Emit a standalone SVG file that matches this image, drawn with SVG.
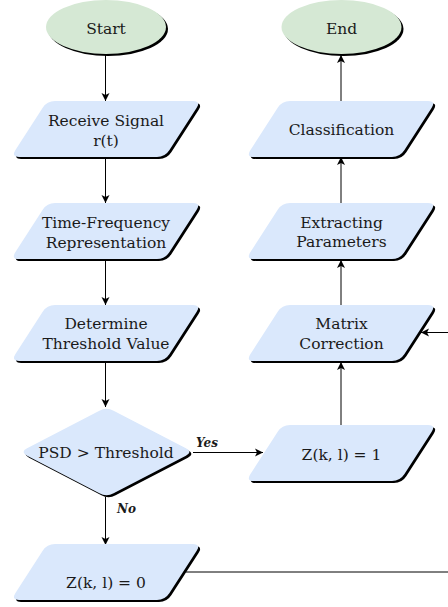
<svg xmlns="http://www.w3.org/2000/svg" xmlns:xlink="http://www.w3.org/1999/xlink" width="448" height="607" viewBox="0 0 448 607">
  <style>
    .lbl { font-family: 'DejaVu Serif', serif; font-size: 15.5px; fill: #1a1a1a; text-anchor: middle; }
    .tag { font-family: 'DejaVu Serif', serif; font-size: 12px; font-style: italic; font-weight: bold; fill: #1a1a1a; }
    .io { fill: #dae8fc; }
    .term { fill: #d5e8d4; }
    .shadow { fill: #000; }
    .edge { fill: none; stroke: #000; stroke-width: 1; }
  </style>
  <defs>
    <!-- rounded parallelogram, 190 x 56, slant 36 -->
    <path id="para" d="M44,0 H182 Q190,0 185.7,6.7 L158.3,49.3 Q154,56 146,56 H8 Q0,56 4.3,49.3 L31.7,6.7 Q36,0 44,0 Z"/>
    <!-- rounded decision diamond, 173 x 90 -->
    <path id="diamond" d="M7.1,41.3 L79.4,3.7 Q86.5,0 93.6,3.7 L165.9,41.3 Q173,45 165.9,48.7 L93.6,86.3 Q86.5,90 79.4,86.3 L7.1,48.7 Q0,45 7.1,41.3 Z"/>
    <marker id="arrow" viewBox="0 0 10 10" refX="9" refY="5" markerWidth="10" markerHeight="10" markerUnits="userSpaceOnUse" orient="auto">
      <path d="M1,1 L9,5 L1,9 L3,5 Z" fill="#000"/>
    </marker>
  </defs>

  <!-- connectors -->
  <g id="connectors">
    <path class="edge" d="M105.5,55 V101" marker-end="url(#arrow)"/>
    <path class="edge" d="M105.5,157 V203" marker-end="url(#arrow)"/>
    <path class="edge" d="M105.5,259 V305" marker-end="url(#arrow)"/>
    <path class="edge" d="M105.5,362 V407" marker-end="url(#arrow)"/>
    <path class="edge" d="M105.5,497 V545" marker-end="url(#arrow)"/>
    <path class="edge" d="M193,452.5 H263" marker-end="url(#arrow)"/>
    <path class="edge" d="M341,425 V362" marker-end="url(#arrow)"/>
    <path class="edge" d="M341,305 V260" marker-end="url(#arrow)"/>
    <path class="edge" d="M341,203 V157" marker-end="url(#arrow)"/>
    <path class="edge" d="M341,101 V55" marker-end="url(#arrow)"/>
    <path class="edge" d="M186,572 H470 V332.5 H421" marker-end="url(#arrow)"/>
    <text class="tag" x="196" y="447">Yes</text>
    <text class="tag" x="117" y="513">No</text>
  </g>

  <!-- left column -->
  <g id="start">
    <ellipse class="shadow" cx="108" cy="29" rx="60" ry="27"/>
    <ellipse class="term" cx="106" cy="27" rx="60" ry="27"/>
    <text class="lbl" x="106" y="33.5">Start</text>
  </g>
  <g id="receive">
    <use href="#para" class="shadow" transform="translate(13,103)"/>
    <use href="#para" class="io" transform="translate(11,101)"/>
    <text class="lbl" x="106" y="126">Receive Signal</text>
    <text class="lbl" x="106" y="146">r(t)</text>
  </g>
  <g id="tfr">
    <use href="#para" class="shadow" transform="translate(13,205)"/>
    <use href="#para" class="io" transform="translate(11,203)"/>
    <text class="lbl" x="106" y="228">Time-Frequency</text>
    <text class="lbl" x="106" y="247.5">Representation</text>
  </g>
  <g id="threshold">
    <use href="#para" class="shadow" transform="translate(13,307)"/>
    <use href="#para" class="io" transform="translate(11,305)"/>
    <text class="lbl" x="106" y="329">Determine</text>
    <text class="lbl" x="106" y="348.5">Threshold Value</text>
  </g>
  <g id="decision">
    <use href="#diamond" class="shadow" transform="translate(22,409)"/>
    <use href="#diamond" class="io" transform="translate(20,407)"/>
    <text class="lbl" x="106" y="458">PSD &gt; Threshold</text>
  </g>
  <g id="z0">
    <use href="#para" class="shadow" transform="translate(13,546)"/>
    <use href="#para" class="io" transform="translate(11,544)"/>
    <text class="lbl" x="106" y="587.5">Z(k, l) = 0</text>
  </g>

  <!-- right column -->
  <g id="end">
    <ellipse class="shadow" cx="343.5" cy="29" rx="60" ry="27"/>
    <ellipse class="term" cx="341.5" cy="27" rx="60" ry="27"/>
    <text class="lbl" x="341.5" y="33.5">End</text>
  </g>
  <g id="classification">
    <use href="#para" class="shadow" transform="translate(248,103)"/>
    <use href="#para" class="io" transform="translate(246,101)"/>
    <text class="lbl" x="341.5" y="135">Classification</text>
  </g>
  <g id="extracting">
    <use href="#para" class="shadow" transform="translate(248,205)"/>
    <use href="#para" class="io" transform="translate(246,203)"/>
    <text class="lbl" x="341.5" y="228">Extracting</text>
    <text class="lbl" x="341.5" y="247">Parameters</text>
  </g>
  <g id="matrix">
    <use href="#para" class="shadow" transform="translate(248,307)"/>
    <use href="#para" class="io" transform="translate(246,305)"/>
    <text class="lbl" x="341.5" y="329">Matrix</text>
    <text class="lbl" x="341.5" y="348.5">Correction</text>
  </g>
  <g id="z1">
    <use href="#para" class="shadow" transform="translate(248,427)"/>
    <use href="#para" class="io" transform="translate(246,425)"/>
    <text class="lbl" x="341.5" y="460">Z(k, l) = 1</text>
  </g>
</svg>
